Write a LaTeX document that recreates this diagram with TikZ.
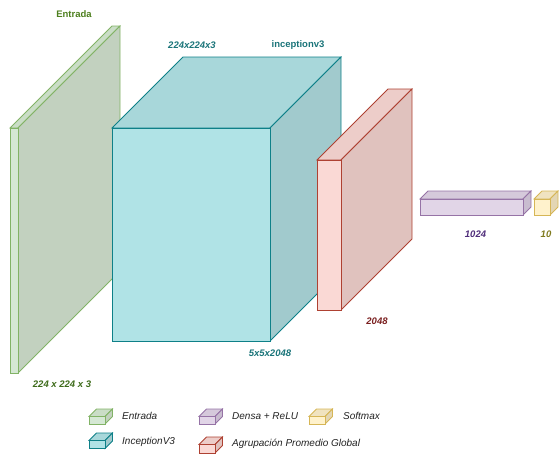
\documentclass[tikz,border=0pt]{standalone}
\usepackage{fontspec}
\setmainfont{Liberation Sans}
\definecolor{entF}{HTML}{D5E8D4}\definecolor{entT}{HTML}{CADDC7}\definecolor{entS}{HTML}{C2D1BF}\definecolor{entD}{HTML}{82B366}
\definecolor{incF}{HTML}{B0E3E6}\definecolor{incT}{HTML}{A8D7DA}\definecolor{incS}{HTML}{A1CACD}\definecolor{incD}{HTML}{0E8088}
\definecolor{poolF}{HTML}{FAD9D5}\definecolor{poolT}{HTML}{EDCDC9}\definecolor{poolS}{HTML}{E0C2BE}\definecolor{poolD}{HTML}{AE4132}
\definecolor{denF}{HTML}{E1D5E7}\definecolor{denT}{HTML}{D5C9DB}\definecolor{denS}{HTML}{C8BCCF}\definecolor{denD}{HTML}{9673A6}
\definecolor{softF}{HTML}{FFF2CC}\definecolor{softT}{HTML}{F0E3C0}\definecolor{softS}{HTML}{E3D6B4}\definecolor{softD}{HTML}{D6B656}
\definecolor{txtGreen}{HTML}{4D7F1E}\definecolor{txtDkGreen}{HTML}{3D6B1A}\definecolor{txtTeal}{HTML}{1A7479}
\definecolor{txtRed}{HTML}{7A1F1F}\definecolor{txtPurple}{HTML}{4F2D7A}\definecolor{txtOlive}{HTML}{7F7A1E}\definecolor{txtGray}{HTML}{222222}
\newcommand\cuboid[7]{%
  \filldraw[fill=#7T,draw=#7D,layerline] (#1,#2) -- ++(#5,-#6) -- ++(#3,0) -- ++(-#5,#6) -- cycle;
  \filldraw[fill=#7S,draw=#7D,layerline] (#1+#3,#2) -- ++(#5,-#6) -- ++(0,#4) -- ++(-#5,#6) -- cycle;
  \filldraw[fill=#7F,draw=#7D,layerline] (#1,#2) rectangle ++(#3,#4);
}
\tikzset{
  layerline/.style={line width=0.8pt, line join=miter},
  lbl/.style={font=\fontsize{9.5}{11}\selectfont\bfseries\itshape, inner sep=0pt},
  lblup/.style={font=\fontsize{9.5}{11}\selectfont\bfseries, inner sep=0pt},
  leg/.style={font=\fontsize{10}{12}\selectfont\itshape, text=txtGray, anchor=west, inner sep=0pt},
}
\begin{document}
\begin{tikzpicture}[x=1pt,y=-1pt]
\useasboundingbox (0,0) rectangle (559,456);
% layers
\cuboid{10}{128}{8}{245}{102}{102}{ent}
\cuboid{112}{128}{158}{213}{71}{71}{inc}
\cuboid{317}{160}{24}{150}{71}{71}{pool}
\cuboid{420}{199}{103}{16}{8}{8}{den}
\cuboid{534}{199}{16}{16}{8}{8}{soft}
% labels
\node[lblup, text=txtGreen] (tEntrada) at (74,14) {Entrada};
\node[lbl, text=txtTeal] (tInSize) at (192,45) {224x224x3};
\node[lblup, text=txtTeal] (tIncep) at (298,45) {inceptionv3};
\node[lbl, text=txtTeal] (tOutSize) at (270,353) {5x5x2048};
\node[lbl, text=txtDkGreen] (tEntSize) at (62,384) {224 x 224 x 3};
\node[lbl, text=txtRed] (tPool) at (377,321) {2048};
\node[lbl, text=txtPurple] (tDense) at (475.5,234) {1024};
\node[lbl, text=txtOlive] (tSoft) at (546,234) {10};
% legend
\cuboid{89}{416.5}{16}{7.5}{7.5}{7.5}{ent}
\cuboid{89}{440.5}{16}{8}{7.5}{7.5}{inc}
\cuboid{199}{416.5}{16}{7.5}{7.5}{7.5}{den}
\cuboid{199}{444.5}{16}{8.5}{7.5}{7.5}{pool}
\cuboid{309}{416.5}{16}{7.5}{7.5}{7.5}{soft}
\node[leg] (lEnt) at (122,416) {Entrada};
\node[leg] (lInc) at (122,441.5) {InceptionV3};
\node[leg] (lDen) at (232,416) {Densa + ReLU};
\node[leg] (lPool) at (232,443.5) {Agrupación Promedio Global};
\node[leg] (lSoft) at (343,416) {Softmax};
\end{tikzpicture}
\end{document}
